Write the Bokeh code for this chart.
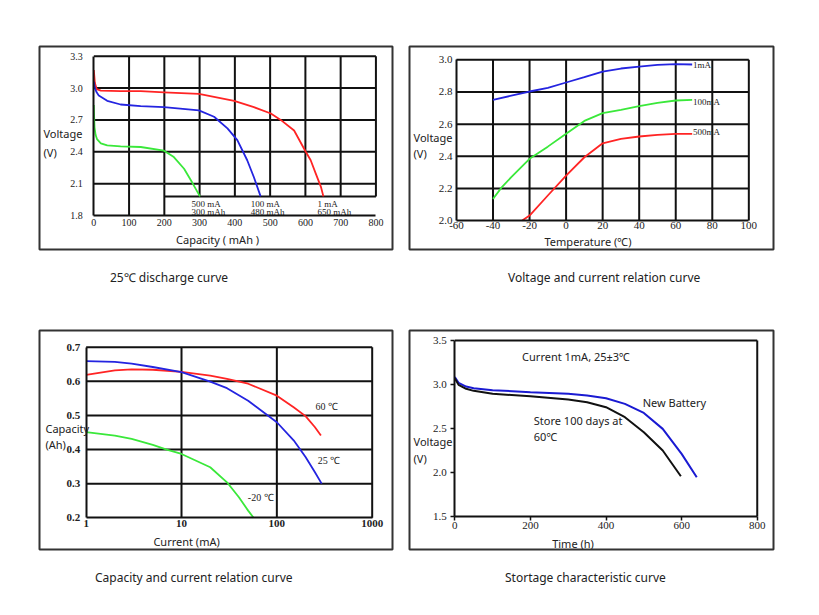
from bokeh.plotting import figure
from bokeh.models import FixedTicker, PrintfTickFormatter, Label, Range1d, Div
from bokeh.layouts import column, row
from bokeh.embed import file_html
from bokeh.resources import INLINE

SERIF = "Liberation Serif"
SANS = "Noto Sans"
BOX = "#333333"
GRIDC = "#111111"
RED = "#ff2424"
BLUE = "#2424e0"
GREEN = "#3ae83a"

# ---------------- Panel 1: 25C discharge curve ----------------
p1_cap_1mA = [0, 3, 8, 20, 76, 133, 199, 298, 398, 454, 502, 530, 568, 601, 615, 630, 644, 651]
p1_v_1mA = [3.17, 3.05, 2.99, 2.975, 2.97, 2.97, 2.96, 2.945, 2.88, 2.82, 2.76, 2.70, 2.60, 2.40, 2.32, 2.19, 2.07, 1.98]
p1_cap_100mA = [0, 3, 8, 14, 38, 76, 133, 199, 298, 341, 379, 407, 435, 454, 473]
p1_v_100mA = [3.06, 3.0, 2.96, 2.93, 2.88, 2.845, 2.83, 2.82, 2.79, 2.73, 2.62, 2.51, 2.32, 2.16, 1.98]
p1_cap_500mA = [0, 1, 2, 5, 9, 20, 38, 76, 133, 199, 227, 256, 279, 301]
p1_v_500mA = [2.84, 2.72, 2.63, 2.56, 2.52, 2.48, 2.46, 2.45, 2.445, 2.41, 2.35, 2.24, 2.11, 1.98]
p1_xticks = [0, 100, 200, 300, 400, 500, 600, 700, 800]
p1_yticks = [1.8, 2.1, 2.4, 2.7, 3.0, 3.3]
p1_label_floor = 1.98
p1_label_box_start = 200
p1_notes = [("500 mA", "300 mAh", 277), ("100 mA", "480 mAh", 445), ("1 mA", "650 mAh", 634)]

# ---------------- Panel 2: voltage vs temperature ----------------
p2_t_1mA = [-40, -30, -20, -10, 0, 10, 20, 30, 40, 50, 60, 69]
p2_v_1mA = [2.751, 2.777, 2.803, 2.826, 2.859, 2.892, 2.927, 2.946, 2.958, 2.969, 2.973, 2.971]
p2_t_100mA = [-40, -35, -30, -20, -10, 0, 10, 20, 30, 40, 50, 60, 69]
p2_v_100mA = [2.135, 2.21, 2.27, 2.384, 2.46, 2.54, 2.62, 2.668, 2.689, 2.712, 2.732, 2.747, 2.751]
p2_t_500mA = [-24, -20, -10, 0, 10, 20, 30, 40, 50, 60, 69]
p2_v_500mA = [2.0, 2.031, 2.156, 2.28, 2.394, 2.481, 2.508, 2.523, 2.533, 2.539, 2.539]
p2_xticks = [-60, -40, -20, 0, 20, 40, 60, 80, 100]
p2_yticks = [2.0, 2.2, 2.4, 2.6, 2.8, 3.0]
p2_series_labels = ["1mA", "100mA", "500mA"]

# ---------------- Panel 3: capacity vs current ----------------
p3_i_25 = [1, 2, 3, 5, 10, 20, 30, 50, 100, 150, 200, 250, 295]
p3_c_25 = [0.659, 0.657, 0.652, 0.642, 0.627, 0.599, 0.58, 0.543, 0.48, 0.427, 0.378, 0.334, 0.30]
p3_i_60 = [1, 2, 3, 5, 10, 20, 30, 50, 100, 150, 200, 250, 290]
p3_c_60 = [0.619, 0.632, 0.635, 0.634, 0.628, 0.617, 0.607, 0.593, 0.558, 0.524, 0.498, 0.466, 0.441]
p3_i_m20 = [1, 2, 3, 5, 7, 10, 20, 30, 40, 50, 57]
p3_c_m20 = [0.451, 0.441, 0.431, 0.414, 0.40, 0.387, 0.348, 0.304, 0.26, 0.221, 0.2]
p3_xticks = [1, 10, 100, 1000]
p3_yticks = [0.2, 0.3, 0.4, 0.5, 0.6, 0.7]

# ---------------- Panel 4: storage characteristic ----------------
p4_t_new = [0, 10, 30, 50, 100, 200, 300, 350, 400, 450, 500, 550, 600, 640]
p4_v_new = [3.083, 3.018, 2.976, 2.957, 2.935, 2.912, 2.893, 2.874, 2.843, 2.779, 2.676, 2.494, 2.21, 1.944]
p4_t_old = [0, 10, 30, 50, 100, 200, 300, 350, 400, 450, 500, 550, 598]
p4_v_old = [3.071, 2.995, 2.95, 2.927, 2.893, 2.866, 2.828, 2.798, 2.741, 2.627, 2.456, 2.248, 1.955]
p4_xticks = [0, 200, 400, 600, 800]
p4_yticks = [1.5, 2.0, 2.5, 3.0, 3.5]

captions = ["25℃ discharge curve", "Voltage and current relation curve",
            "Capacity and current relation curve", "Stortage characteristic curve"]


def make_fig(width, height, left, right, top, bottom, xr, yr, x_type="linear"):
    p = figure(width=width, height=height, x_range=Range1d(*xr), y_range=Range1d(*yr),
               x_axis_type=x_type, output_backend="svg", toolbar_location=None,
               min_border_left=left, min_border_right=right,
               min_border_top=top, min_border_bottom=bottom)
    p.xgrid.visible = False
    p.ygrid.visible = False
    p.outline_line_color = BOX
    p.outline_line_width = 2
    p.background_fill_color = "white"
    p.border_fill_color = "white"
    return p


def setup_axes(p, xticks, yticks, xfmt, yfmt, font_size="10px", bold=False, ticks_out=0,
               x_standoff=3, y_standoff=8):
    p.xaxis.fixed_location = yticks[0]
    p.yaxis.fixed_location = xticks[0]
    p.xaxis.bounds = (xticks[0], xticks[-1])
    p.yaxis.bounds = (yticks[0], yticks[-1])
    p.xaxis.ticker = FixedTicker(ticks=xticks)
    p.yaxis.ticker = FixedTicker(ticks=yticks)
    p.xaxis.formatter = PrintfTickFormatter(format=xfmt)
    p.yaxis.formatter = PrintfTickFormatter(format=yfmt)
    for ax in (p.xaxis[0], p.yaxis[0]):
        ax.axis_line_width = 2
        ax.axis_line_color = GRIDC
        ax.major_label_text_font = SERIF
        ax.major_label_text_font_size = font_size
        ax.major_label_text_color = "#222222"
        ax.major_label_text_font_style = "bold" if bold else "normal"
        ax.minor_tick_line_color = None
        ax.minor_tick_out = 0
        ax.minor_tick_in = 0
        ax.major_tick_in = 0
        ax.major_tick_out = ticks_out
        if ticks_out:
            ax.major_tick_line_color = GRIDC
            ax.major_tick_line_width = 1.5
        else:
            ax.major_tick_line_color = None
    p.xaxis.major_label_standoff = x_standoff
    p.yaxis.major_label_standoff = y_standoff


def text(p, x, y, s, font=SANS, size="11px", align="left", color="#222222"):
    p.add_layout(Label(x=x, y=y, text=s, text_font=font, text_font_size=size,
                       text_align=align, text_baseline="middle", text_color=color))


def caption(s, width, left):
    return Div(text=('<div style="position:relative; left:%dpx; top:17px; font-family:\'Noto Sans\';'
                     ' font-size:12px; color:#222; white-space:nowrap;">%s</div>') % (left, s),
               width=width, height=48, margin=0)


# ---------- Figure 1 ----------
p1 = make_fig(400, 252, 39, 8, 46, 3, (-154, 847), (1.48, 3.391))
setup_axes(p1, p1_xticks, p1_yticks, "%d", "%.1f", font_size="10px", x_standoff=3, y_standoff=11)
vx = p1_xticks[1:]
p1.segment(x0=vx, y0=[p1_yticks[0] if x <= p1_label_box_start else p1_label_floor for x in vx],
           x1=vx, y1=[p1_yticks[-1]] * len(vx), line_color=GRIDC, line_width=2)
hy = p1_yticks[1:]
p1.segment(x0=[p1_xticks[0]] * len(hy), y0=hy, x1=[p1_xticks[-1]] * len(hy), y1=hy,
           line_color=GRIDC, line_width=2)
p1.segment(x0=[p1_label_box_start], y0=[p1_label_floor], x1=[p1_xticks[-1]], y1=[p1_label_floor],
           line_color=GRIDC, line_width=2)
p1.line(p1_cap_1mA, p1_v_1mA, line_color=RED, line_width=1.8)
p1.line(p1_cap_100mA, p1_v_100mA, line_color=BLUE, line_width=1.8)
p1.line(p1_cap_500mA, p1_v_500mA, line_color=GREEN, line_width=1.8)
for l1, l2, xx in p1_notes:
    text(p1, xx, 1.912, l1, font=SERIF, size="9px")
    text(p1, xx, 1.833, l2, font=SERIF, size="9px")
text(p1, -142.7, 2.572, "Voltage")
text(p1, -142.7, 2.393, "(V)")
text(p1, 351, 1.574, "Capacity ( mAh )", align="center")

# ---------- Figure 2 ----------
p2 = make_fig(405, 252, 9, 32, 46, 3, (-85.7, 113.5), (1.82, 3.083))
setup_axes(p2, p2_xticks, p2_yticks, "%d", "%.1f", font_size="11px", x_standoff=1, y_standoff=4)
vx2 = p2_xticks[1:]
p2.segment(x0=vx2, y0=[p2_yticks[0]] * len(vx2), x1=vx2, y1=[p2_yticks[-1]] * len(vx2),
           line_color=GRIDC, line_width=2)
hy2 = p2_yticks[1:]
p2.segment(x0=[p2_xticks[0]] * len(hy2), y0=hy2, x1=[p2_xticks[-1]] * len(hy2), y1=hy2,
           line_color=GRIDC, line_width=2)
p2.line(p2_t_1mA, p2_v_1mA, line_color=BLUE, line_width=1.8)
p2.line(p2_t_100mA, p2_v_100mA, line_color=GREEN, line_width=1.8)
p2.line(p2_t_500mA, p2_v_500mA, line_color=RED, line_width=1.8)
text(p2, p2_t_1mA[-1] + 0.5, p2_v_1mA[-1], p2_series_labels[0], font=SERIF, size="9px")
text(p2, p2_t_100mA[-1] + 0.5, p2_v_100mA[-1] - 0.014, p2_series_labels[1], font=SERIF, size="9px")
text(p2, p2_t_500mA[-1] + 0.5, p2_v_500mA[-1] + 0.011, p2_series_labels[2], font=SERIF, size="9px")
text(p2, -83.5, 2.517, "Voltage")
text(p2, -83.5, 2.417, "(V)")
text(p2, 12.0, 1.87, "Temperature (℃)", align="center")

# ---------- Figure 3 ----------
p3 = make_fig(400, 252, 39, 8, 30, 3, (0.324, 1633), (0.107, 0.749), x_type="log")
setup_axes(p3, p3_xticks, p3_yticks, "%d", "%.1f", font_size="11px", bold=True,
           x_standoff=2, y_standoff=6)
vx3 = p3_xticks[1:]
p3.segment(x0=vx3, y0=[p3_yticks[0]] * len(vx3), x1=vx3, y1=[p3_yticks[-1]] * len(vx3),
           line_color=GRIDC, line_width=2)
hy3 = p3_yticks[1:]
p3.segment(x0=[p3_xticks[0]] * len(hy3), y0=hy3, x1=[p3_xticks[-1]] * len(hy3), y1=hy3,
           line_color=GRIDC, line_width=2)
p3.line(p3_i_60, p3_c_60, line_color=RED, line_width=1.8)
p3.line(p3_i_25, p3_c_25, line_color=BLUE, line_width=1.8)
p3.line(p3_i_m20, p3_c_m20, line_color=GREEN, line_width=1.8)
text(p3, 254.6, 0.526, "60 ℃", font=SERIF, size="10px")
text(p3, 269, 0.368, "25 ℃", font=SERIF, size="10px")
text(p3, 49.6, 0.259, "-20 ℃", font=SERIF, size="10px")
text(p3, 0.374, 0.461, "Capacity")
text(p3, 0.374, 0.414, "(Ah)")
text(p3, 11.3, 0.131, "Current (mA)", align="center")

# ---------- Figure 4 ----------
p4 = make_fig(405, 252, 9, 32, 30, 3, (-119.8, 843), (1.121, 3.614))
setup_axes(p4, p4_xticks, p4_yticks, "%d", "%.1f", font_size="11px", ticks_out=4,
           x_standoff=2, y_standoff=4)
p4.segment(x0=[p4_xticks[0], p4_xticks[-1]], y0=[p4_yticks[-1], p4_yticks[0]],
           x1=[p4_xticks[-1], p4_xticks[-1]], y1=[p4_yticks[-1], p4_yticks[-1]],
           line_color=GRIDC, line_width=2)
p4.line(p4_t_new, p4_v_new, line_color="#1a1ad2", line_width=2)
p4.line(p4_t_old, p4_v_old, line_color="#111111", line_width=2)
text(p4, 178, 3.32, "Current 1mA, 25±3℃")
text(p4, 497, 2.79, "New Battery")
text(p4, 209, 2.589, "Store 100 days at")
text(p4, 209, 2.407, "60℃")
text(p4, -109.2, 2.35, "Voltage")
text(p4, -109.2, 2.16, "(V)")
text(p4, 312.7, 1.186, "Time (h)", align="center")

layout = column(row(p1, p2),
                row(caption(captions[0], 400, 110), caption(captions[1], 405, 108)),
                row(p3, p4),
                row(caption(captions[2], 400, 95), caption(captions[3], 405, 105)))
open("out.html", "w").write(file_html(layout, INLINE))
